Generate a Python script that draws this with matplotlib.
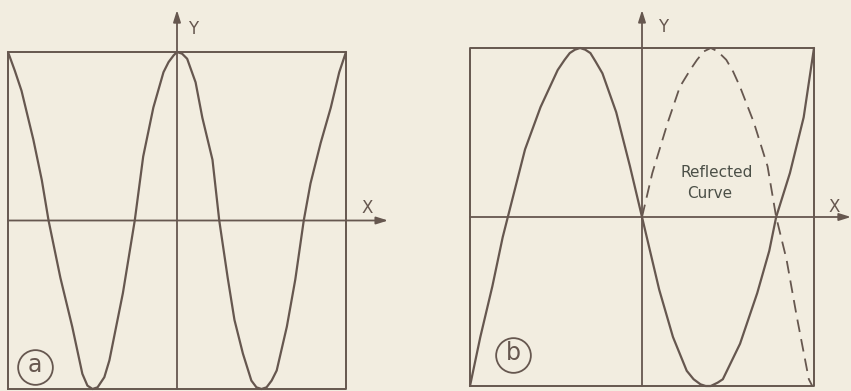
import matplotlib
matplotlib.use("Agg")
import matplotlib.pyplot as plt

# ---------------- data (normalised to the frame: x, y in [-1, 1]) ----------------
# Panel (a): solid curve
a_x = [-1.00, -0.96, -0.92, -0.85, -0.80, -0.76, -0.69, -0.62, -0.56, -0.53, -0.50, -0.47,
       -0.43, -0.40, -0.32, -0.25, -0.20, -0.14, -0.08, -0.05, -0.02, 0.00, 0.03, 0.06,
       0.11, 0.15, 0.21, 0.25, 0.30, 0.34, 0.39, 0.44, 0.47, 0.50, 0.53, 0.56, 0.59,
       0.65, 0.70, 0.75, 0.79, 0.85, 0.91, 0.96, 1.00]
a_y = [1.00, 0.89, 0.77, 0.48, 0.24, 0.00, -0.34, -0.63, -0.91, -0.98, -1.00, -0.99,
       -0.93, -0.83, -0.43, 0.00, 0.38, 0.67, 0.88, 0.94, 0.98, 1.00, 0.99, 0.96,
       0.82, 0.61, 0.36, 0.00, -0.34, -0.59, -0.79, -0.95, -0.99, -1.00, -0.99, -0.95, -0.89,
       -0.63, -0.35, 0.00, 0.22, 0.46, 0.67, 0.88, 1.00]

# Panel (b): solid curve
b_x = [-1.00, -0.94, -0.87, -0.81, -0.78, -0.68, -0.59, -0.49, -0.45, -0.42, -0.39,
       -0.36, -0.33, -0.30, -0.27, -0.23, -0.15, -0.07, 0.00, 0.10, 0.18, 0.26, 0.30,
       0.34, 0.37, 0.40, 0.44, 0.47, 0.57, 0.67, 0.74, 0.78, 0.86, 0.94, 1.00]
b_y = [-1.00, -0.71, -0.41, -0.12, 0.00, 0.40, 0.65, 0.87, 0.93, 0.97, 0.99,
       1.00, 0.99, 0.97, 0.92, 0.85, 0.62, 0.30, 0.00, -0.43, -0.71, -0.91, -0.96,
       -0.99, -1.00, -1.00, -0.98, -0.96, -0.75, -0.45, -0.20, 0.00, 0.26, 0.59, 1.00]

# Panel (b): reflected (dashed) curve
r_x = [0.00, 0.06, 0.15, 0.22, 0.28, 0.32, 0.36, 0.40, 0.44, 0.49, 0.53, 0.57, 0.65,
       0.73, 0.78, 0.84, 0.90, 0.97, 0.99]
r_y = [0.00, 0.26, 0.56, 0.77, 0.87, 0.93, 0.98, 1.00, 0.98, 0.93, 0.86, 0.77, 0.56,
       0.30, 0.00, -0.25, -0.59, -0.96, -1.00]

panel_labels = ["a", "b"]
axis_labels = ["X", "Y"]
note_lines = ["Reflected", "Curve"]

# ---------------- style ----------------
BG = "#f2ede0"
LC = "#66574f"
TC = "#4b4f47"
W, H = 851, 391

fig = plt.figure(figsize=(W / 100, H / 100), dpi=100, facecolor=BG)


def make_axes(left, right, top, bottom):
    ax = fig.add_axes([left / W, 1 - bottom / H, (right - left) / W, (bottom - top) / H])
    ax.set_xlim(-1, 1)
    ax.set_ylim(-1, 1)
    ax.axis("off")
    ax.patch.set_alpha(0)
    return ax


def frame_and_axes(ax, xtip, ytip, xl, yl):
    ax.plot([-1, 1, 1, -1, -1], [-1, -1, 1, 1, -1], color=LC, lw=1.4, clip_on=False)
    ax.annotate("", xy=(xtip, 0), xytext=(-1, 0), annotation_clip=False,
                arrowprops=dict(arrowstyle="-|>,head_length=0.7,head_width=0.22",
                                lw=1.3, color=LC, shrinkA=0, shrinkB=0))
    ax.annotate("", xy=(0, ytip), xytext=(0, -1), annotation_clip=False,
                arrowprops=dict(arrowstyle="-|>,head_length=0.7,head_width=0.22",
                                lw=1.3, color=LC, shrinkA=0, shrinkB=0))
    ax.text(xl[0], xl[1], axis_labels[0], fontsize=12, color=LC, ha="center",
            va="center", family="DejaVu Sans")
    ax.text(yl[0], yl[1], axis_labels[1], fontsize=12, color=LC, ha="center",
            va="center", family="DejaVu Sans")


def circ_label(ax, x, y, s):
    ax.plot([x], [y], marker="o", ms=25, mfc="none", mec=LC, mew=1.3, clip_on=False)
    ax.text(x, y + 0.01, s, fontsize=17, color=LC, ha="center", va="center",
            family="DejaVu Sans")


curve_kw = dict(color=LC, lw=1.6, clip_on=False, solid_joinstyle="round",
                solid_capstyle="round")

# Panel (a)
axa = make_axes(8, 346, 52, 389)
frame_and_axes(axa, 1.249, 1.249, (1.124, 0.074), (0.095, 1.136))
axa.plot(a_x, a_y, **curve_kw)
circ_label(axa, -0.843, -0.869, panel_labels[0])

# Panel (b)
axb = make_axes(470, 814, 48, 386)
frame_and_axes(axb, 1.215, 1.225, (1.116, 0.06), (0.122, 1.124))
axb.plot(b_x, b_y, **curve_kw)
axb.plot(r_x, r_y, color=LC, lw=1.3, linestyle=(0, (7, 4)), clip_on=False)
circ_label(axb, -0.75, -0.817, panel_labels[1])
axb.text(0.436, 0.266, note_lines[0], fontsize=11, color=TC, ha="center", va="center")
axb.text(0.395, 0.142, note_lines[1], fontsize=11, color=TC, ha="center", va="center")

fig.savefig("out.png", dpi=100, facecolor=BG)
